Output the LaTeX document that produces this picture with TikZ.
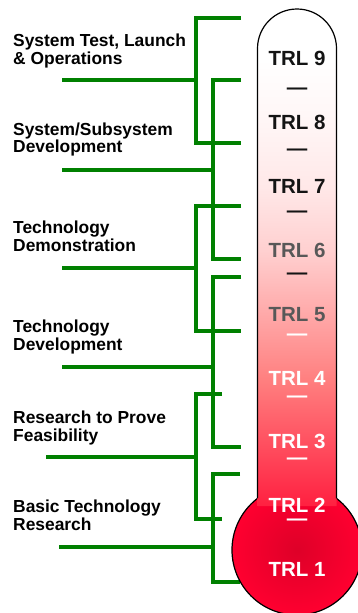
\documentclass[tikz,border=0pt]{standalone}
\usepackage{fontspec}
\setmainfont{Liberation Sans}
\definecolor{grn}{RGB}{0,128,0}
\definecolor{ca}{RGB}{255,32,64}
\definecolor{cb}{RGB}{255,80,96}
\definecolor{cc}{RGB}{255,128,128}
\definecolor{cd}{RGB}{255,168,168}
\definecolor{ce}{RGB}{255,208,208}
\definecolor{cf}{RGB}{255,232,232}
\definecolor{cg}{RGB}{255,246,246}
\definecolor{bulbin}{RGB}{222,0,40}
\definecolor{bulbout}{RGB}{255,0,48}
\definecolor{txtdark}{RGB}{20,20,20}
\definecolor{txtgray}{RGB}{88,88,88}
\pgfdeclareverticalshading{tubeshade}{100bp}{color(0bp)=(ca); color(25bp)=(ca); color(31.4bp)=(cb); color(37.8bp)=(cc); color(44.2bp)=(cd); color(50.7bp)=(ce); color(57.1bp)=(cf); color(63.8bp)=(cg); color(70bp)=(white); color(100bp)=(white)}
\begin{document}
\begin{tikzpicture}[x=1pt,y=1pt,
  stage/.style={draw=grn, line width=3.1pt, line join=miter},
  trl/.style={font=\fontsize{20.5}{24}\selectfont\bfseries, inner sep=0pt, anchor=base},
  dashmark/.style={font=\fontsize{20.5}{24}\selectfont\bfseries, inner sep=0pt, anchor=base},
  lbl/.style={font=\fontsize{17.4}{17.8}\selectfont\bfseries, inner sep=0pt, anchor=base west, text=black}]
\useasboundingbox (0,0) rectangle (358,-613);
\clip (0,0) rectangle (358,-613);
\fill[white] (0,0) rectangle (358,-613);

% stage labels
\node[lbl] (l1) at (13,-46.7) {\vtop{\hbox{System Test, Launch}\hbox{\& Operations}}};
\node[lbl] (l2) at (13,-135) {\vtop{\hbox{System/Subsystem}\hbox{Development}}};
\node[lbl] (l3) at (13,-233.3) {\vtop{\hbox{Technology}\hbox{Demonstration}}};
\node[lbl] (l4) at (13,-332.3) {\vtop{\hbox{Technology}\hbox{Development}}};
\node[lbl] (l5) at (13,-423.3) {\vtop{\hbox{Research to Prove}\hbox{Feasibility}}};
\node[lbl] (l6) at (13,-512.3) {\vtop{\hbox{Basic Technology}\hbox{Research}}};

% bracket coordinates
\coordinate (t1) at (241,-18);  \coordinate (b1) at (241,-143); \coordinate (j1) at (196,-80);  \coordinate (s1) at (62,-80);
\coordinate (t2) at (241,-80);  \coordinate (b2) at (241,-259); \coordinate (j2) at (213,-170); \coordinate (s2) at (62,-170);
\coordinate (t3) at (241,-206); \coordinate (b3) at (241,-331); \coordinate (j3) at (196,-268); \coordinate (s3) at (62,-268);
\coordinate (t4) at (241,-277); \coordinate (b4) at (241,-447); \coordinate (j4) at (213,-367); \coordinate (s4) at (62,-367);
\coordinate (t5) at (222,-394); \coordinate (b5) at (222,-519); \coordinate (j5) at (196,-457); \coordinate (s5) at (46,-457);
\coordinate (t6) at (240,-474); \coordinate (b6) at (240,-582); \coordinate (j6) at (213,-547); \coordinate (s6) at (59,-547);

\foreach \i in {1,...,6}{
  \draw[stage] (t\i) -- (t\i -| j\i) -- (b\i -| j\i) -- (b\i);
  \draw[stage] (s\i) -- ([xshift=2pt]j\i);
}

% thermometer bulb
\shade[inner color=bulbin, outer color=bulbout] (297,-550) circle (65pt);
\draw[line width=1.2pt, black] (297,-550) circle (65pt);
% tube
\shade[shading=tubeshade] (257.5,-506) -- (257.5,-48.5) arc[start angle=180, end angle=0, radius=39.5] -- (336.5,-506) -- cycle;
\draw[line width=1.2pt, black] (257.5,-498.4) -- (257.5,-48.5) arc[start angle=180, end angle=0, radius=39.5] -- (336.5,-498.4);

% TRL labels
\node[trl, text=txtdark] (trl9) at (297,-65.5) {TRL 9};
\node[trl, text=txtdark] (trl8) at (297,-129.4) {TRL 8};
\node[trl, text=txtdark] (trl7) at (297,-193.3) {TRL 7};
\node[trl, text=txtgray] (trl6) at (297,-257.2) {TRL 6};
\node[trl, text=txtgray] (trl5) at (297,-321.1) {TRL 5};
\node[trl, text=white] (trl4) at (297,-385) {TRL 4};
\node[trl, text=white] (trl3) at (297,-448.9) {TRL 3};
\node[trl, text=white] (trl2) at (297,-512.8) {TRL 2};
\node[trl, text=white] (trl1) at (297,-576.7) {TRL 1};

% dashes
\node[dashmark, text=txtdark] (d1) at (297,-94) {—};
\node[dashmark, text=txtdark] (d2) at (297,-155.7) {—};
\node[dashmark, text=txtdark] (d3) at (297,-217.4) {—};
\node[dashmark, text=txtdark] (d4) at (297,-279.1) {—};
\node[dashmark, text=white] (d5) at (297,-340.8) {—};
\node[dashmark, text=white] (d6) at (297,-402.5) {—};
\node[dashmark, text=white] (d7) at (297,-464.2) {—};
\node[dashmark, text=white] (d8) at (297,-525.9) {—};
\end{tikzpicture}
\end{document}
